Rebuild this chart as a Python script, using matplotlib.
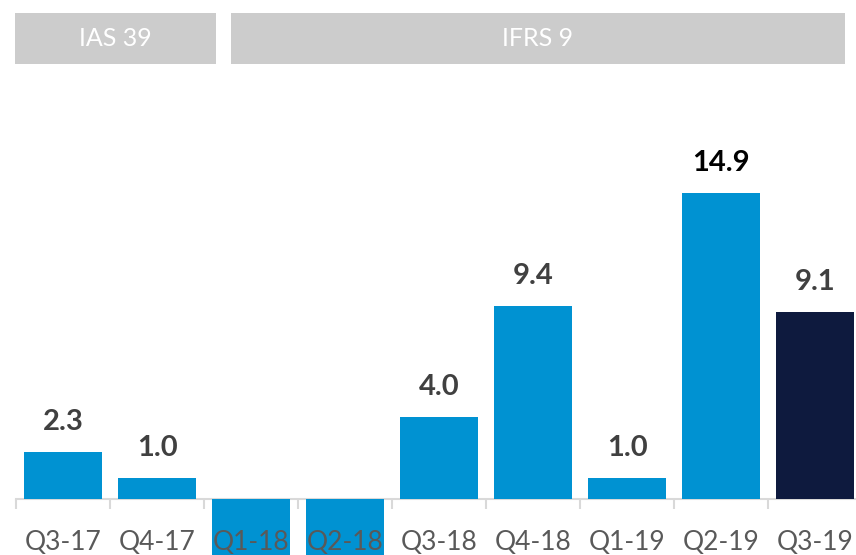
import numpy as np
import matplotlib
matplotlib.use("Agg")
import matplotlib.pyplot as plt
from matplotlib.patches import Rectangle

quarters = ["Q3-17", "Q4-17", "Q1-18", "Q2-18", "Q3-18", "Q4-18", "Q1-19", "Q2-19", "Q3-19"]
values = [2.3, 1.0, -3.5, -3.2, 4.0, 9.4, 1.0, 14.9, 9.1]
bar_colors = ["#0092d2"] * 8 + ["#0e1a3e"]
label_colors = ["#404040"] * 7 + ["#000000", "#404040"]
periods = ["IAS 39", "IFRS 9"]

plt.rcParams['font.family'] = ['Lato', 'DejaVu Sans']

W, H = 856, 555
fig = plt.figure(figsize=(W / 100, H / 100), dpi=100)

# axes: slot width 94 px, first slot starts at x=16, baseline at y=499
ax = fig.add_axes([16 / W, 0, 846 / W, (H - 80) / H])
ppu = 20.54  # pixels per unit
ax.set_xlim(-0.5, 8.5)
ax.set_ylim(-(H - 499) / ppu, (499 - 80) / ppu)

x = np.arange(len(quarters))
ax.bar(x, values, width=0.83, color=bar_colors, zorder=1)

for xi, v, c in zip(x, values, label_colors):
    if v > 0:
        ax.annotate(f"{v:.1f}", (xi, v), xytext=(0, 17), textcoords="offset pixels",
                    ha="center", va="bottom", fontsize=21, fontweight="bold", color=c)

for s in ["top", "right", "left"]:
    ax.spines[s].set_visible(False)
ax.spines["bottom"].set_position(("data", 0))
ax.spines["bottom"].set_color("#d9d9d9")
ax.spines["bottom"].set_linewidth(1.5)
ax.spines["bottom"].set_zorder(0.5)
ax.set_yticks([])
ax.set_xticks(x)
ax.set_xticklabels(quarters)
ax.set_xticks(np.arange(-0.5, 9, 1), minor=True)
ax.tick_params(axis="x", which="major", length=0, pad=22, labelsize=19, labelcolor="#595959")
ax.tick_params(axis="x", which="minor", length=7, width=1.5, color="#d9d9d9", direction="out")
for lbl in ax.get_xticklabels():
    lbl.set_zorder(3)

# period header boxes
boxes = [(15, 216), (231, 845)]
for (x0, x1), name in zip(boxes, periods):
    fig.add_artist(Rectangle((x0 / W, 1 - 64 / H), (x1 - x0) / W, 51 / H,
                             transform=fig.transFigure, facecolor="#cccccc",
                             edgecolor="none", zorder=0))
    fig.text((x0 + x1) / 2 / W, 1 - 38.5 / H, name, ha="center", va="center",
             fontsize=18, color="white", zorder=5)

fig.savefig("out.png", dpi=100)
